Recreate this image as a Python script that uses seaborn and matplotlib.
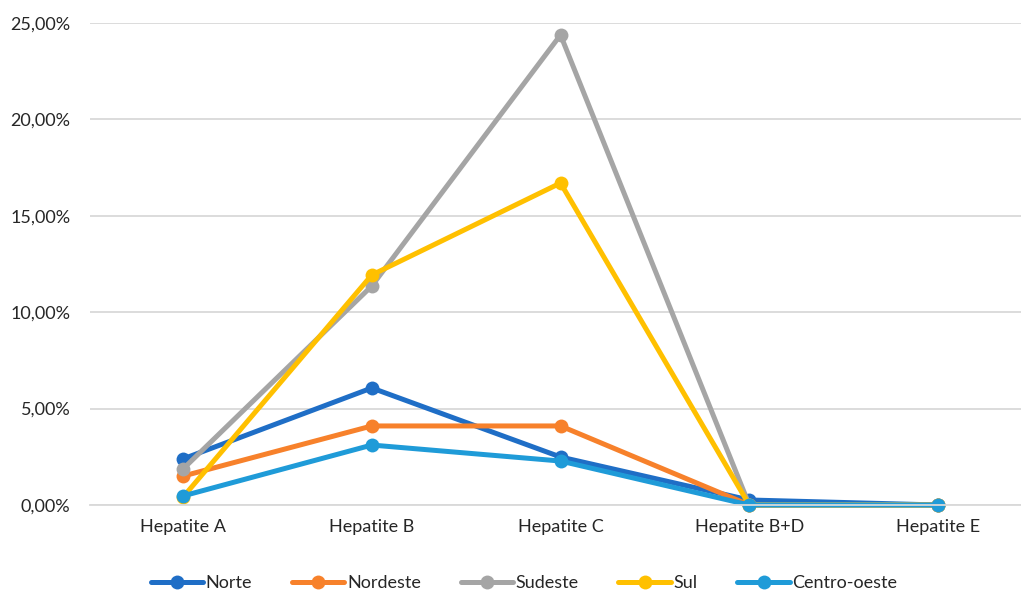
import matplotlib
matplotlib.use("Agg")
import matplotlib.pyplot as plt
from matplotlib import font_manager
from matplotlib.ticker import FuncFormatter
import seaborn as sns
import pandas as pd

categories = ["Hepatite A", "Hepatite B", "Hepatite C", "Hepatite B+D", "Hepatite E"]
regions = ["Norte", "Nordeste", "Sudeste", "Sul", "Centro-oeste"]

norte = [2.39, 6.07, 2.49, 0.26, 0.00]
nordeste = [1.50, 4.10, 4.10, 0.00, 0.00]
sudeste = [1.87, 11.36, 24.38, 0.00, 0.00]
sul = [0.41, 11.93, 16.70, 0.00, 0.00]
centro_oeste = [0.47, 3.11, 2.28, 0.00, 0.00]

colors = ["#1F6EC6", "#F7812B", "#A5A5A5", "#FFC000", "#1F9BD8"]
y_ticks = [0, 5, 10, 15, 20, 25]

series = [norte, nordeste, sudeste, sul, centro_oeste]
rows = []
for region, vals in zip(regions, series):
    for i, v in enumerate(vals):
        rows.append({"pos": i, "Região": region, "valor": v})
df = pd.DataFrame(rows)

sns.set_theme(style="white")
available = {f.name for f in font_manager.fontManager.ttflist}
family = "Liberation Sans Narrow" if "Liberation Sans Narrow" in available else "Lato"
plt.rcParams["font.family"] = [family, "DejaVu Sans"]

fig = plt.figure(figsize=(10.21, 5.92), dpi=100)
ax = fig.add_axes([90 / 1021, 1 - 505 / 592, (1021 - 90) / 1021, 482 / 592])

sns.lineplot(
    data=df, x="pos", y="valor", hue="Região", hue_order=regions,
    palette=colors, marker="o", markersize=10, markeredgewidth=0,
    linewidth=3.6, sort=False, ax=ax, legend=True,
)

ax.set_xlim(-0.493, (1021 - 183) / 188.75)
ax.set_ylim(0, 25)
ax.set_yticks(y_ticks)
ax.yaxis.set_major_formatter(FuncFormatter(lambda v, p: f"{v:.2f}".replace(".", ",") + "%"))
ax.set_xticks(range(len(categories)))
ax.set_xticklabels(categories)
ax.set_xlabel("")
ax.set_ylabel("")
ax.grid(axis="y", color="#D9D9D9", linewidth=1.3)
ax.set_axisbelow(True)
for side in ["left", "right", "top"]:
    ax.spines[side].set_visible(False)
ax.spines["bottom"].set_color("#D9D9D9")
ax.spines["bottom"].set_linewidth(1.3)
ax.spines["bottom"].set_clip_on(False)
for line in ax.lines:
    line.set_clip_on(False)
ax.tick_params(axis="both", length=0, labelsize=13, colors="#262626")
ax.tick_params(axis="y", pad=14)
ax.tick_params(axis="x", pad=10)

handles, labels = ax.get_legend_handles_labels()
ax.legend(
    handles, labels, loc="center", bbox_to_anchor=(524 / 1021, (1 - 583 / 592)),
    bbox_transform=fig.transFigure, ncol=5, frameon=False, fontsize=13,
    handlelength=2.9, handletextpad=0.15, columnspacing=2.2,
    labelcolor="#262626",
)

fig.savefig("out.png", dpi=100)
